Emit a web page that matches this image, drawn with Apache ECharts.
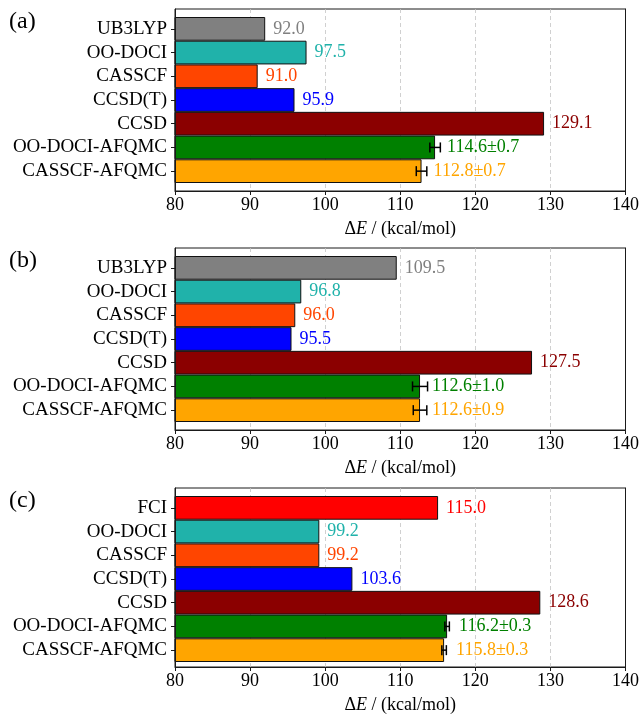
<!DOCTYPE html>
<html>
<head>
<meta charset="utf-8">
<script src="https://cdn.jsdelivr.net/npm/echarts@6/dist/echarts.min.js"></script>
<style>
  html, body { margin: 0; padding: 0; background: #fff; }
  #chart { width: 642px; height: 715px; }
</style>
</head>
<body>
<div id="chart"></div>
<script>
// Method names per panel
const methodsAB = ['UB3LYP', 'OO-DOCI', 'CASSCF', 'CCSD(T)', 'CCSD', 'OO-DOCI-AFQMC', 'CASSCF-AFQMC'];
const methodsC = ['FCI', 'OO-DOCI', 'CASSCF', 'CCSD(T)', 'CCSD', 'OO-DOCI-AFQMC', 'CASSCF-AFQMC'];

// Energy gaps (kcal/mol) and statistical errors (0 = deterministic method)
const energiesA = [92.0, 97.5, 91.0, 95.9, 129.1, 114.6, 112.8];
const errorsA   = [0, 0, 0, 0, 0, 0.7, 0.7];
const energiesB = [109.5, 96.8, 96.0, 95.5, 127.5, 112.6, 112.6];
const errorsB   = [0, 0, 0, 0, 0, 1.0, 0.9];
const energiesC = [115.0, 99.2, 99.2, 103.6, 128.6, 116.2, 115.8];
const errorsC   = [0, 0, 0, 0, 0, 0.3, 0.3];

const panelTags = ['(a)', '(b)', '(c)'];
const xTicks = [80, 90, 100, 110, 120, 130, 140];

// Bar colours per method
const colorsAB = ['#808080', '#20B2AA', '#FF4500', '#0000FF', '#8B0000', '#008000', '#FFA500'];
const colorsC  = ['#FF0000', '#20B2AA', '#FF4500', '#0000FF', '#8B0000', '#008000', '#FFA500'];

const FONT = '"Liberation Serif", "Times New Roman", serif';
const panels = [
  { methods: methodsAB, energies: energiesA, errors: errorsA, colors: colorsAB, top: 9 },
  { methods: methodsAB, energies: energiesB, errors: errorsB, colors: colorsAB, top: 248 },
  { methods: methodsC, energies: energiesC, errors: errorsC, colors: colorsC, top: 488 }
];

const LEFT = 175, WIDTH = 451, HEIGHT = 182, PAD = 8;
const SPINE = { show: true, lineStyle: { color: '#1a1a1a', width: 1 } };
const grid = [], xAxis = [], yAxis = [], series = [], graphic = [];

panels.forEach((p, i) => {
  const fi = i * 2, bi = i * 2 + 1;
  // frame grid: box, x ticks, dashed grid lines, axis title
  grid.push({ left: LEFT, top: p.top, width: WIDTH, height: HEIGHT, show: true,
              borderColor: '#1a1a1a', borderWidth: 1, backgroundColor: 'transparent' });
  // bar grid: inset so the frame has a margin above and below the bars
  grid.push({ left: LEFT, top: p.top + PAD, width: WIDTH, height: HEIGHT - 2 * PAD });

  xAxis.push({
    gridIndex: fi, type: 'value', min: xTicks[0], max: xTicks[xTicks.length - 1], interval: 10,
    axisLine: SPINE,
    axisTick: { show: true, length: 4, lineStyle: { color: '#1a1a1a' } },
    axisLabel: { fontFamily: FONT, fontSize: 18, color: '#000', margin: 5 },
    splitLine: { show: true, lineStyle: { color: '#c4c4c4', width: 0.8, type: [4, 3] } },
    name: '{d|Δ}{e|E}{n| / (kcal/mol)}', nameLocation: 'middle', nameGap: 29,
    nameTextStyle: {
      rich: {
        d: { fontFamily: FONT, fontSize: 18, color: '#000' },
        e: { fontFamily: FONT, fontSize: 18, fontStyle: 'italic', color: '#000' },
        n: { fontFamily: FONT, fontSize: 18, color: '#000' }
      }
    }
  });
  xAxis.push({
    gridIndex: bi, type: 'value', min: xTicks[0], max: xTicks[xTicks.length - 1], show: false,
    splitLine: { show: false }
  });
  // left and right spines of the frame, drawn above the dashed grid lines
  yAxis.push({
    gridIndex: fi, type: 'value', min: 0, max: 1, position: 'left', z: 3,
    axisLine: SPINE, axisTick: { show: false }, axisLabel: { show: false }, splitLine: { show: false }
  });
  yAxis.push({
    gridIndex: bi, type: 'category', data: p.methods, inverse: true,
    axisLine: { show: false },
    axisTick: { show: true, alignWithLabel: true, interval: 0, length: 4, lineStyle: { color: '#1a1a1a' } },
    axisLabel: { fontFamily: FONT, fontSize: 19, color: '#000', margin: 8, interval: 0 }
  });
  yAxis.push({
    gridIndex: fi, type: 'value', min: 0, max: 1, position: 'right', z: 3,
    axisLine: SPINE, axisTick: { show: false }, axisLabel: { show: false }, splitLine: { show: false }
  });
});

panels.forEach((p, i) => {
  const bx = i * 2 + 1;          // x axis of the bar grid
  const by = i * 3 + 1;          // category y axis of the bar grid
  series.push({
    type: 'bar', xAxisIndex: bx, yAxisIndex: by,
    barWidth: '100%', barCategoryGap: '0%',
    data: p.energies.map((v, k) => ({
      value: v,
      itemStyle: { color: p.colors[k], borderColor: '#111', borderWidth: 1 },
      label: {
        show: true, position: 'right', distance: p.errors[k] ? 12 : 8,
        fontFamily: FONT, fontSize: 18, color: p.colors[k],
        formatter: () => v.toFixed(1) + (p.errors[k] ? '±' + p.errors[k].toFixed(1) : '')
      }
    }))
  });

  // error bars for the stochastic results
  series.push({
    type: 'custom', xAxisIndex: bx, yAxisIndex: by, z: 5,
    data: p.energies.map((v, k) => [v, k, p.errors[k]]).filter(d => d[2] > 0),
    renderItem: (params, api) => {
      const v = api.value(0), k = api.value(1), e = api.value(2);
      const lo = api.coord([v - e, k]), hi = api.coord([v + e, k]);
      const cap = 5;
      const st = { stroke: '#000', lineWidth: 1.5 };
      return {
        type: 'group',
        children: [
          { type: 'line', shape: { x1: lo[0], y1: lo[1], x2: hi[0], y2: hi[1] }, style: st },
          { type: 'line', shape: { x1: lo[0], y1: lo[1] - cap, x2: lo[0], y2: lo[1] + cap }, style: st },
          { type: 'line', shape: { x1: hi[0], y1: hi[1] - cap, x2: hi[0], y2: hi[1] + cap }, style: st }
        ]
      };
    }
  });

  graphic.push({
    type: 'text', left: 9, top: p.top + 1,
    style: { text: panelTags[i], font: '24px ' + FONT, fill: '#000' }
  });
});

const chart = echarts.init(document.getElementById('chart'), null, { renderer: 'canvas' });
chart.setOption({
  animation: false,
  backgroundColor: '#fff',
  grid, xAxis, yAxis, series, graphic
});
</script>
</body>
</html>
